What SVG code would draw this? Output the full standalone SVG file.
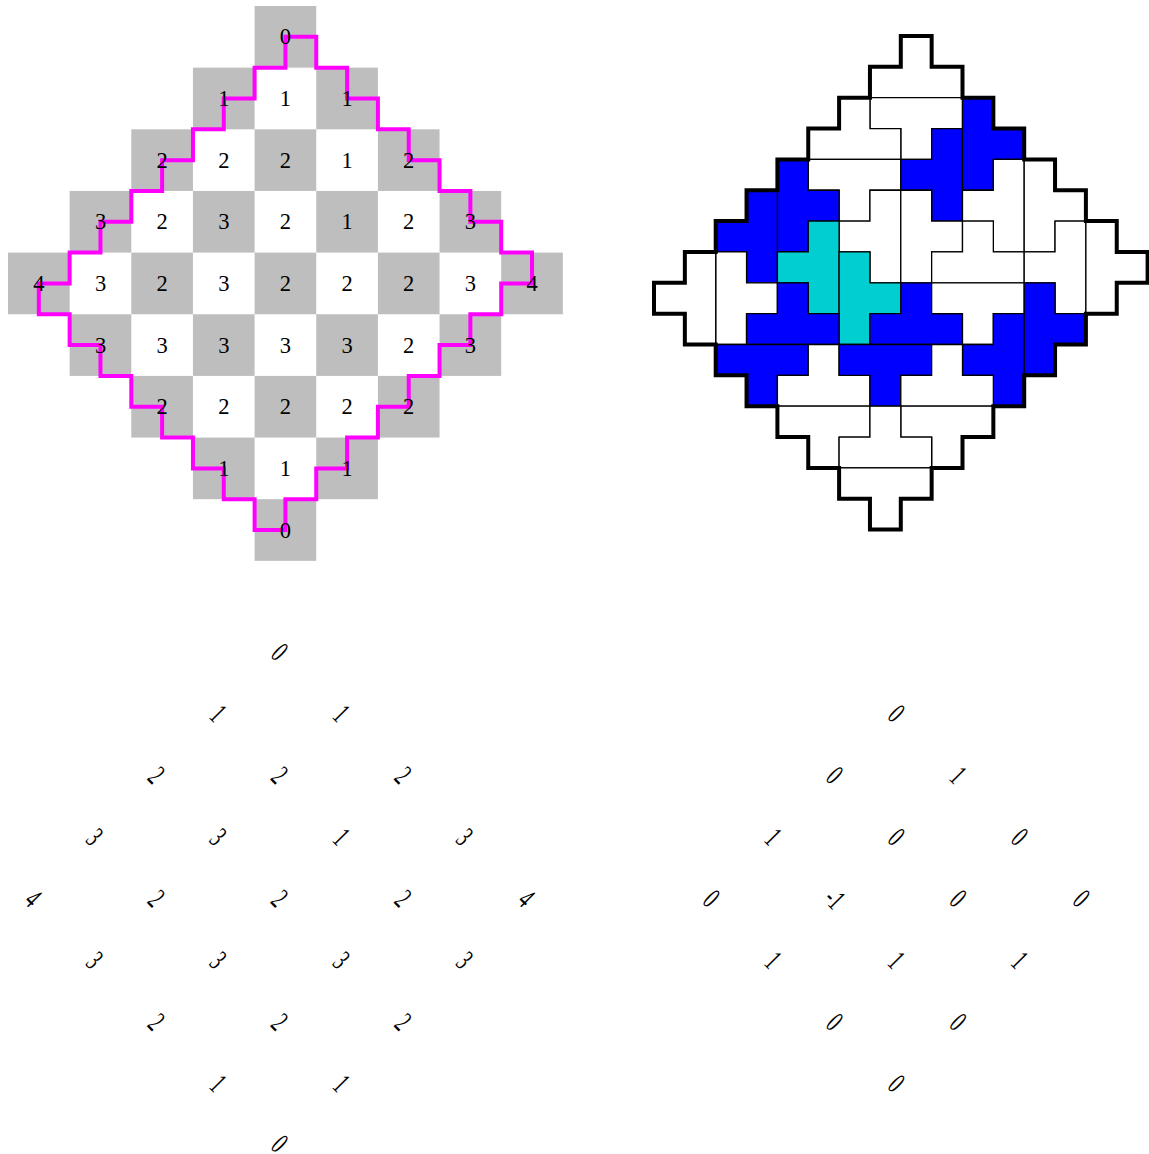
<svg xmlns="http://www.w3.org/2000/svg" width="1149" height="1154" viewBox="0 0 1149 1154">
<style>
.g{fill:#bebebe}
.t{font-family:"Liberation Serif","Times New Roman",serif;font-size:22.5px;text-anchor:middle;fill:#000}
.r{font-family:"Liberation Serif","Times New Roman",serif;font-size:30px;text-anchor:middle;fill:#000}
.tile{stroke:#000;stroke-width:1.3;vector-effect:non-scaling-stroke;stroke-linejoin:miter}
.w{fill:#fff}.b{fill:#0000ff}.c{fill:#00ced1}
.outer{fill:none;stroke:#000;stroke-width:4;vector-effect:non-scaling-stroke;stroke-linejoin:miter}
.mag{fill:none;stroke:#ff00ff;stroke-width:4;vector-effect:non-scaling-stroke;stroke-linejoin:miter}
</style>
<rect width="1149" height="1154" fill="#fff"/>
<g id="height-grid">
<g id="cells">
<rect class="g" x="254.6" y="6" width="61.65" height="61.65"/>
<rect class="g" x="192.95" y="67.65" width="61.65" height="61.65"/>
<rect class="g" x="316.25" y="67.65" width="61.65" height="61.65"/>
<rect class="g" x="131.3" y="129.3" width="61.65" height="61.65"/>
<rect class="g" x="254.6" y="129.3" width="61.65" height="61.65"/>
<rect class="g" x="377.9" y="129.3" width="61.65" height="61.65"/>
<rect class="g" x="69.65" y="190.95" width="61.65" height="61.65"/>
<rect class="g" x="192.95" y="190.95" width="61.65" height="61.65"/>
<rect class="g" x="316.25" y="190.95" width="61.65" height="61.65"/>
<rect class="g" x="439.55" y="190.95" width="61.65" height="61.65"/>
<rect class="g" x="8" y="252.6" width="61.65" height="61.65"/>
<rect class="g" x="131.3" y="252.6" width="61.65" height="61.65"/>
<rect class="g" x="254.6" y="252.6" width="61.65" height="61.65"/>
<rect class="g" x="377.9" y="252.6" width="61.65" height="61.65"/>
<rect class="g" x="501.2" y="252.6" width="61.65" height="61.65"/>
<rect class="g" x="69.65" y="314.25" width="61.65" height="61.65"/>
<rect class="g" x="192.95" y="314.25" width="61.65" height="61.65"/>
<rect class="g" x="316.25" y="314.25" width="61.65" height="61.65"/>
<rect class="g" x="439.55" y="314.25" width="61.65" height="61.65"/>
<rect class="g" x="131.3" y="375.9" width="61.65" height="61.65"/>
<rect class="g" x="254.6" y="375.9" width="61.65" height="61.65"/>
<rect class="g" x="377.9" y="375.9" width="61.65" height="61.65"/>
<rect class="g" x="192.95" y="437.55" width="61.65" height="61.65"/>
<rect class="g" x="316.25" y="437.55" width="61.65" height="61.65"/>
<rect class="g" x="254.6" y="499.2" width="61.65" height="61.65"/>
</g>
<g id="boundary-path" transform="translate(8 6) scale(30.825)">
<path class="mag" d="M9,1V2H8V3H7V4H6V5H5V6H4V7H3V8H2V9H1V10H2V11H3V12H4V13H5V14H6V15H7V16H8V17H9V16H10V15H11V14H12V13H13V12H14V11H15V10H16V9H17V8H16V7H15V6H14V5H13V4H12V3H11V2H10V1Z"/>
</g>
<g id="cell-labels" class="t">
<text x="285.4" y="44.3">0</text>
<text x="223.8" y="106">1</text><text x="285.4" y="106">1</text><text x="347.1" y="106">1</text>
<text x="162.1" y="167.6">2</text><text x="223.8" y="167.6">2</text><text x="285.4" y="167.6">2</text><text x="347.1" y="167.6">1</text><text x="408.7" y="167.6">2</text>
<text x="100.5" y="229.3">3</text><text x="162.1" y="229.3">2</text><text x="223.8" y="229.3">3</text><text x="285.4" y="229.3">2</text><text x="347.1" y="229.3">1</text><text x="408.7" y="229.3">2</text><text x="470.4" y="229.3">3</text>
<text x="38.8" y="290.9">4</text><text x="100.5" y="290.9">3</text><text x="162.1" y="290.9">2</text><text x="223.8" y="290.9">3</text><text x="285.4" y="290.9">2</text><text x="347.1" y="290.9">2</text><text x="408.7" y="290.9">2</text><text x="470.4" y="290.9">3</text><text x="532" y="290.9">4</text>
<text x="100.5" y="352.6">3</text><text x="162.1" y="352.6">3</text><text x="223.8" y="352.6">3</text><text x="285.4" y="352.6">3</text><text x="347.1" y="352.6">3</text><text x="408.7" y="352.6">2</text><text x="470.4" y="352.6">3</text>
<text x="162.1" y="414.2">2</text><text x="223.8" y="414.2">2</text><text x="285.4" y="414.2">2</text><text x="347.1" y="414.2">2</text><text x="408.7" y="414.2">2</text>
<text x="223.8" y="475.9">1</text><text x="285.4" y="475.9">1</text><text x="347.1" y="475.9">1</text>
<text x="285.4" y="537.5">0</text>
</g>
</g>
<g id="tiling" transform="translate(654 36) scale(30.85)">
<g id="tile-1"><polygon class="tile w" points="7,1 8,1 8,0 9,0 9,1 10,1 10,2 7,2"/></g>
<g id="tile-2"><polygon class="tile w" points="7,2 10,2 10,3 9,3 9,4 8,4 8,3 7,3"/></g>
<g id="tile-3"><polygon class="tile w" points="5,3 6,3 6,2 7,2 7,3 8,3 8,4 5,4"/></g>
<g id="tile-4"><polygon class="tile w" points="5,4 8,4 8,5 7,5 7,6 6,6 6,5 5,5"/></g>
<g id="tile-5"><polygon class="tile w" points="7,5 8,5 8,8 7,8 7,7 6,7 6,6 7,6"/></g>
<g id="tile-6"><polygon class="tile b" points="9,3 10,3 10,6 9,6 9,5 8,5 8,4 9,4"/></g>
<g id="tile-7"><polygon class="tile b" points="10,2 11,2 11,3 12,3 12,4 11,4 11,5 10,5"/></g>
<g id="tile-8"><polygon class="tile w" points="11,4 12,4 12,7 11,7 11,6 10,6 10,5 11,5"/></g>
<g id="tile-9"><polygon class="tile w" points="8,5 9,5 9,6 10,6 10,7 9,7 9,8 8,8"/></g>
<g id="tile-10"><polygon class="tile w" points="9,7 10,7 10,6 11,6 11,7 12,7 12,8 9,8"/></g>
<g id="tile-11"><polygon class="tile w" points="12,4 13,4 13,5 14,5 14,6 13,6 13,7 12,7"/></g>
<g id="tile-12"><polygon class="tile w" points="13,6 14,6 14,9 13,9 13,8 12,8 12,7 13,7"/></g>
<g id="tile-13"><polygon class="tile w" points="14,6 15,6 15,7 16,7 16,8 15,8 15,9 14,9"/></g>
<g id="tile-14"><polygon class="tile b" points="4,4 5,4 5,5 6,5 6,6 5,6 5,7 4,7"/></g>
<g id="tile-15"><polygon class="tile b" points="3,5 4,5 4,8 3,8 3,7 2,7 2,6 3,6"/></g>
<g id="tile-16"><polygon class="tile c" points="5,6 6,6 6,9 5,9 5,8 4,8 4,7 5,7"/></g>
<g id="tile-17"><polygon class="tile c" points="6,7 7,7 7,8 8,8 8,9 7,9 7,10 6,10"/></g>
<g id="tile-18"><polygon class="tile w" points="2,7 3,7 3,8 4,8 4,9 3,9 3,10 2,10"/></g>
<g id="tile-19"><polygon class="tile w" points="1,7 2,7 2,10 1,10 1,9 0,9 0,8 1,8"/></g>
<g id="tile-20"><polygon class="tile b" points="3,9 4,9 4,8 5,8 5,9 6,9 6,10 3,10"/></g>
<g id="tile-21"><polygon class="tile b" points="2,10 5,10 5,11 4,11 4,12 3,12 3,11 2,11"/></g>
<g id="tile-22"><polygon class="tile w" points="4,11 5,11 5,10 6,10 6,11 7,11 7,12 4,12"/></g>
<g id="tile-23"><polygon class="tile w" points="4,12 7,12 7,13 6,13 6,14 5,14 5,13 4,13"/></g>
<g id="tile-24"><polygon class="tile b" points="7,9 8,9 8,8 9,8 9,9 10,9 10,10 7,10"/></g>
<g id="tile-25"><polygon class="tile w" points="9,8 12,8 12,9 11,9 11,10 10,10 10,9 9,9"/></g>
<g id="tile-26"><polygon class="tile b" points="11,9 12,9 12,12 11,12 11,11 10,11 10,10 11,10"/></g>
<g id="tile-27"><polygon class="tile b" points="12,8 13,8 13,9 14,9 14,10 13,10 13,11 12,11"/></g>
<g id="tile-28"><polygon class="tile b" points="6,10 9,10 9,11 8,11 8,12 7,12 7,11 6,11"/></g>
<g id="tile-29"><polygon class="tile w" points="8,11 9,11 9,10 10,10 10,11 11,11 11,12 8,12"/></g>
<g id="tile-30"><polygon class="tile w" points="8,12 11,12 11,13 10,13 10,14 9,14 9,13 8,13"/></g>
<g id="tile-31"><polygon class="tile w" points="6,13 7,13 7,12 8,12 8,13 9,13 9,14 6,14"/></g>
<g id="tile-32"><polygon class="tile w" points="6,14 9,14 9,15 8,15 8,16 7,16 7,15 6,15"/></g>
<g id="region-outline"><polygon class="outer" points="8,0 9,0 9,1 10,1 10,2 11,2 11,3 12,3 12,4 13,4 13,5 14,5 14,6 15,6 15,7 16,7 16,8 15,8 15,9 14,9 14,10 13,10 13,11 12,11 12,12 11,12 11,13 10,13 10,14 9,14 9,15 8,15 8,16 7,16 7,15 6,15 6,14 5,14 5,13 4,13 4,12 3,12 3,11 2,11 2,10 1,10 1,9 0,9 0,8 1,8 1,7 2,7 2,6 3,6 3,5 4,5 4,4 5,4 5,3 6,3 6,2 7,2 7,1 8,1"/></g>
</g>
<g id="heights-left" class="r">
<text transform="translate(280 651.7) rotate(45) scale(0.6 1)" y="10.2">0</text>
<text transform="translate(218.3 713.3) rotate(45) scale(0.6 1)" y="10.2">1</text>
<text transform="translate(341.7 713.3) rotate(45) scale(0.6 1)" y="10.2">1</text>
<text transform="translate(156.7 775) rotate(45) scale(0.6 1)" y="10.2">2</text>
<text transform="translate(280 775) rotate(45) scale(0.6 1)" y="10.2">2</text>
<text transform="translate(403.3 775) rotate(45) scale(0.6 1)" y="10.2">2</text>
<text transform="translate(95 836.7) rotate(45) scale(0.6 1)" y="10.2">3</text>
<text transform="translate(218.3 836.7) rotate(45) scale(0.6 1)" y="10.2">3</text>
<text transform="translate(341.7 836.7) rotate(45) scale(0.6 1)" y="10.2">1</text>
<text transform="translate(465 836.7) rotate(45) scale(0.6 1)" y="10.2">3</text>
<text transform="translate(33.3 898.3) rotate(45) scale(0.6 1)" y="10.2">4</text>
<text transform="translate(156.7 898.3) rotate(45) scale(0.6 1)" y="10.2">2</text>
<text transform="translate(280 898.3) rotate(45) scale(0.6 1)" y="10.2">2</text>
<text transform="translate(403.3 898.3) rotate(45) scale(0.6 1)" y="10.2">2</text>
<text transform="translate(526.7 898.3) rotate(45) scale(0.6 1)" y="10.2">4</text>
<text transform="translate(95 960) rotate(45) scale(0.6 1)" y="10.2">3</text>
<text transform="translate(218.3 960) rotate(45) scale(0.6 1)" y="10.2">3</text>
<text transform="translate(341.7 960) rotate(45) scale(0.6 1)" y="10.2">3</text>
<text transform="translate(465 960) rotate(45) scale(0.6 1)" y="10.2">3</text>
<text transform="translate(156.7 1021.7) rotate(45) scale(0.6 1)" y="10.2">2</text>
<text transform="translate(280 1021.7) rotate(45) scale(0.6 1)" y="10.2">2</text>
<text transform="translate(403.3 1021.7) rotate(45) scale(0.6 1)" y="10.2">2</text>
<text transform="translate(218.3 1083.3) rotate(45) scale(0.6 1)" y="10.2">1</text>
<text transform="translate(341.7 1083.3) rotate(45) scale(0.6 1)" y="10.2">1</text>
<text transform="translate(280 1143.5) rotate(45) scale(0.6 1)" y="10.2">0</text>
</g>
<g id="heights-right" class="r">
<text transform="translate(896.7 713.3) rotate(45) scale(0.6 1)" y="10.2">0</text>
<text transform="translate(835 775) rotate(45) scale(0.6 1)" y="10.2">0</text>
<text transform="translate(958.3 775) rotate(45) scale(0.6 1)" y="10.2">1</text>
<text transform="translate(773.3 836.7) rotate(45) scale(0.6 1)" y="10.2">1</text>
<text transform="translate(896.7 836.7) rotate(45) scale(0.6 1)" y="10.2">0</text>
<text transform="translate(1020 836.7) rotate(45) scale(0.6 1)" y="10.2">0</text>
<text transform="translate(711.7 898.3) rotate(45) scale(0.6 1)" y="10.2">0</text>
<text transform="translate(835 898.3) rotate(45) scale(0.6 1)" y="10.2">-1</text>
<text transform="translate(958.3 898.3) rotate(45) scale(0.6 1)" y="10.2">0</text>
<text transform="translate(1081.7 898.3) rotate(45) scale(0.6 1)" y="10.2">0</text>
<text transform="translate(773.3 960) rotate(45) scale(0.6 1)" y="10.2">1</text>
<text transform="translate(896.7 960) rotate(45) scale(0.6 1)" y="10.2">1</text>
<text transform="translate(1020 960) rotate(45) scale(0.6 1)" y="10.2">1</text>
<text transform="translate(835 1021.7) rotate(45) scale(0.6 1)" y="10.2">0</text>
<text transform="translate(958.3 1021.7) rotate(45) scale(0.6 1)" y="10.2">0</text>
<text transform="translate(896.7 1083.3) rotate(45) scale(0.6 1)" y="10.2">0</text>
</g>
</svg>
